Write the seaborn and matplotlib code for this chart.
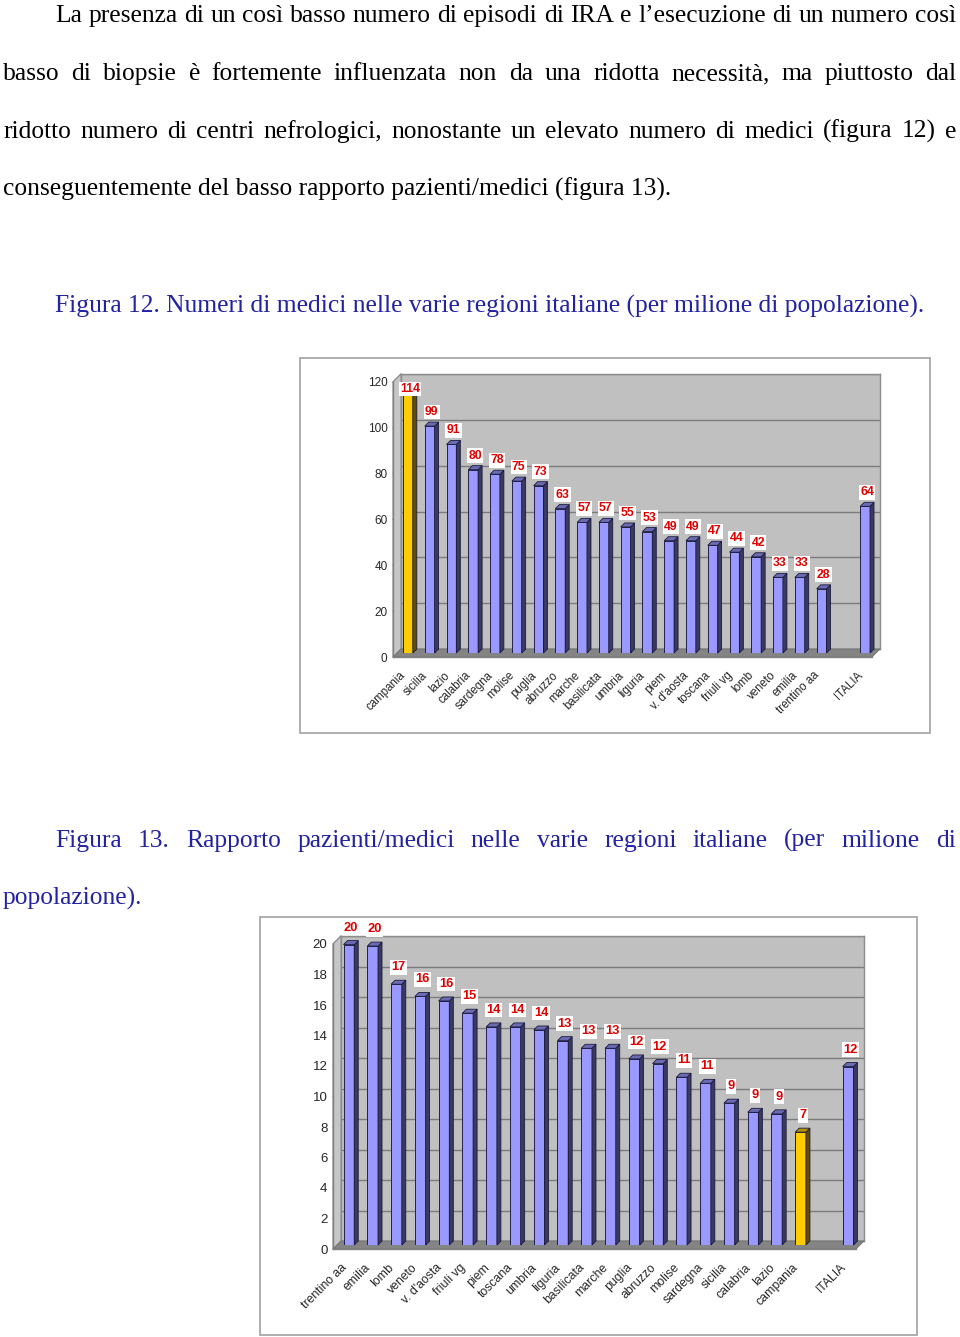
import numpy as np
import matplotlib
matplotlib.use("Agg")
import matplotlib.pyplot as plt
import seaborn as sns
import pandas as pd
from matplotlib.patches import Polygon, Rectangle
from matplotlib.lines import Line2D

# ---------------- data ----------------
paragraph_lines = [
    "La presenza di un così basso numero di episodi di IRA e l’esecuzione di un numero così",
    "basso di biopsie è fortemente influenzata non da una ridotta necessità, ma piuttosto dal",
    "ridotto numero di centri nefrologici, nonostante un elevato numero di medici (figura 12) e",
    "conseguentemente del basso rapporto pazienti/medici (figura 13).",
]
caption_12 = "Figura 12. Numeri di medici nelle varie regioni italiane (per milione di popolazione)."
caption_13 = ["Figura 13. Rapporto pazienti/medici nelle varie regioni italiane (per milione di",
              "popolazione)."]

regions_12 = ["campania", "sicilia", "lazio", "calabria", "sardegna", "molise", "puglia",
              "abruzzo", "marche", "basilicata", "umbria", "liguria", "piem", "v. d'aosta",
              "toscana", "friuli vg", "lomb", "veneto", "emilia", "trentino aa", "ITALIA"]
medici_12 = [114, 99, 91, 80, 78, 75, 73, 63, 57, 57, 55, 53, 49, 49, 47, 44, 42, 33, 33, 28, 64]
yticks_12 = [0, 20, 40, 60, 80, 100, 120]

regions_13 = ["trentino aa", "emilia", "lomb", "veneto", "v. d'aosta", "friuli vg", "piem",
              "toscana", "umbria", "liguria", "basilicata", "marche", "puglia", "abruzzo",
              "molise", "sardegna", "sicilia", "calabria", "lazio", "campania", "ITALIA"]
rapporto_13 = [19.7, 19.6, 17.1, 16.3, 16.0, 15.2, 14.3, 14.3, 14.1, 13.4, 12.9, 12.9,
               12.2, 11.9, 11.0, 10.6, 9.3, 8.7, 8.6, 7.4, 11.7]
yticks_13 = [0, 2, 4, 6, 8, 10, 12, 14, 16, 18, 20]

highlight = "campania"

# ---------------- layout ----------------
W, H = 960, 1337
sns.set_style("white")
plt.rcParams['font.family'] = ['Liberation Sans', 'DejaVu Sans']

fig = plt.figure(figsize=(W / 100, H / 100), dpi=100)
fig.patch.set_facecolor("white")
renderer = fig.canvas.get_renderer()

SERIF = ['Liberation Serif', 'DejaVu Serif']
BLUE_TXT = '#2222a2'


def pf(x, y):
    return (x / W, 1 - y / H)


def add_axes_px(x0, yt, x1, yb):
    return fig.add_axes([x0 / W, 1 - yb / H, (x1 - x0) / W, (yb - yt) / H])


def text_width(s, size):
    t = fig.text(0, 0, s, fontsize=size, family=SERIF)
    w = t.get_window_extent(renderer=renderer).width
    t.remove()
    return w


# calibrate body font size on the last (left aligned) paragraph line
fs = 10 * 668 / text_width(paragraph_lines[3], 10)


def justified(s, x0, x1, ybase, color='black'):
    words = s.split(' ')
    arts, widths = [], []
    for w in words:
        t = fig.text(0, 0, w, fontsize=fs, family=SERIF, color=color, va='baseline', ha='left')
        widths.append(t.get_window_extent(renderer=renderer).width)
        arts.append(t)
    gap = (x1 - x0 - sum(widths)) / (len(words) - 1)
    x = x0
    for t, w in zip(arts, widths):
        t.set_position(pf(x, ybase))
        x += w + gap


def plain(s, x0, ybase, color='black'):
    fig.text(*pf(x0, ybase), s, fontsize=fs, family=SERIF, color=color, va='baseline', ha='left')


justified(paragraph_lines[0], 55, 956, 22)
justified(paragraph_lines[1], 3, 956, 80)
justified(paragraph_lines[2], 3, 956, 138)
plain(paragraph_lines[3], 3, 196)
plain(caption_12, 55, 313, BLUE_TXT)
justified(caption_13[0], 55, 956, 847, BLUE_TXT)
plain(caption_13[1], 3, 905, BLUE_TXT)


def shade(c, f):
    r, g, b = matplotlib.colors.to_rgb(c)
    return (r * f, g * f, b * f)


def draw_chart(regions, values, yticks, frame, front, tick_fs, xlab_fs, val_fs, label_gap,
               clamp_px=None):
    x0, yt, x1, yb = front
    ymax = yticks[-1]
    o = 8
    h = o / 2
    order = regions[:-1] + [" "] + [regions[-1]]
    n = len(order)
    slot_px = (x1 - x0) / n
    ypx = (yb - yt) / ymax

    # outer frame
    fx0, fy0, fx1, fy1 = frame
    fig.patches.append(Rectangle(pf(fx0, fy1), (fx1 - fx0) / W, (fy1 - fy0) / H,
                                 transform=fig.transFigure, fill=False, ec='#a8a8a8',
                                 lw=1.3, zorder=0))

    # back wall
    axw = add_axes_px(x0 + o, yt - o, x1 + o, yb - o)
    axw.set_zorder(0)
    axw.set_facecolor('#c0c0c0')
    axw.set_xlim(-0.5, n - 0.5)
    axw.set_ylim(0, ymax)
    for v in yticks:
        axw.axhline(v, color='#7c7c7c', lw=1.0)
    axw.set_xticks([])
    axw.set_yticks([])
    for s in axw.spines.values():
        s.set_color('#8c8c8c')
        s.set_linewidth(1.0)

    # left side wall and floor
    side = Polygon([pf(x0, yb), pf(x0, yt), pf(x0 + o, yt - o), pf(x0 + o, yb - o)],
                   closed=True, transform=fig.transFigure, fc='#c6c6c6', ec='#8c8c8c',
                   lw=0.8, zorder=1)
    fig.patches.append(side)
    for v in yticks:
        yp = yb - v * ypx
        fig.lines.append(Line2D([x0 / W, (x0 + o) / W], [1 - yp / H, 1 - (yp - o) / H],
                                transform=fig.transFigure, color='#7c7c7c', lw=0.9, zorder=1))
    floor = Polygon([pf(x0, yb), pf(x1, yb), pf(x1 + o, yb - o), pf(x0 + o, yb - o)],
                    closed=True, transform=fig.transFigure, fc='#848484', ec='#6e6e6e',
                    lw=0.6, zorder=1)
    fig.patches.append(floor)

    # bars
    axb = add_axes_px(x0 + h, yt - h, x1 + h, yb - h)
    axb.set_zorder(2)
    axb.patch.set_alpha(0)
    df = pd.DataFrame({"region": regions, "value": values})
    pal = {r: ('#ffcc00' if r == highlight else '#9999ff') for r in regions}
    sns.barplot(data=df, x="region", y="value", hue="region", order=order, palette=pal,
                width=0.45, saturation=1, edgecolor='#20204a', linewidth=0.7,
                legend=False, ax=axb)
    axb.set_xlim(-0.5, n - 0.5)
    axb.set_ylim(0, ymax)
    axb.set_axis_off()

    dx = (o / 2) / slot_px
    dy = (o / 2) / ypx
    bars = [p for p in axb.patches if isinstance(p, Rectangle)]
    for p in bars:
        xl, w, ht = p.get_x(), p.get_width(), p.get_height()
        if np.isnan(ht):
            continue
        fc = p.get_facecolor()
        sidep = Polygon([(xl + w, 0), (xl + w + dx, dy), (xl + w + dx, ht + dy), (xl + w, ht)],
                        closed=True, fc=shade(fc, 0.38), ec='#1a1a3a', lw=0.6, clip_on=False)
        topp = Polygon([(xl, ht), (xl + w, ht), (xl + w + dx, ht + dy), (xl + dx, ht + dy)],
                       closed=True, fc=shade(fc, 0.7), ec='#1a1a3a', lw=0.6, clip_on=False)
        axb.add_patch(sidep)
        axb.add_patch(topp)
        # value label
        y_lab_px = (yb - h) - ht * ypx - label_gap
        if clamp_px is not None:
            y_lab_px = max(y_lab_px, clamp_px)
        y_lab = ((yb - h) - y_lab_px) / ypx
        axb.text(xl + w / 2 + dx / 2, y_lab, f"{ht:.0f}", ha='center', va='center',
                 color='#e00000', fontsize=val_fs, fontweight='bold', clip_on=False,
                 bbox=dict(fc='white', ec='none', pad=1.0), zorder=5)

    # front axis (ticks and labels)
    axf = add_axes_px(x0, yt, x1, yb)
    axf.set_zorder(3)
    axf.patch.set_alpha(0)
    axf.set_xlim(-0.5, n - 0.5)
    axf.set_ylim(0, ymax)
    for s in ['top', 'right']:
        axf.spines[s].set_visible(False)
    for s in ['left', 'bottom']:
        axf.spines[s].set_color('#808080')
        axf.spines[s].set_linewidth(1.0)
    axf.set_yticks(yticks)
    axf.set_yticklabels([str(v) for v in yticks], fontsize=tick_fs)
    axf.tick_params(axis='y', direction='out', length=3, width=0.8, color='#808080', pad=1)
    pos = [order.index(r) for r in regions]
    axf.set_xticks(pos)
    axf.set_xticklabels(regions, fontsize=xlab_fs, rotation=45, ha='right', va='center',
                        rotation_mode='anchor')
    axf.set_xticks(np.arange(-0.5, n, 1.0), minor=True)
    axf.tick_params(axis='x', which='major', length=0, pad=12)
    axf.tick_params(axis='x', which='minor', direction='out', length=4, width=0.8,
                    color='#808080')
    axf.grid(False)


draw_chart(regions_12, medici_12, yticks_12,
           frame=(300, 358, 930, 733), front=(393, 382, 872, 657),
           tick_fs=8.5, xlab_fs=8.3, val_fs=8.8, label_gap=14, clamp_px=389)

draw_chart(regions_13, rapporto_13, yticks_13,
           frame=(260, 917, 917, 1335), front=(333, 944, 856, 1249),
           tick_fs=9.5, xlab_fs=8.8, val_fs=9.3, label_gap=17)

fig.savefig("out.png", dpi=100, facecolor="white")
